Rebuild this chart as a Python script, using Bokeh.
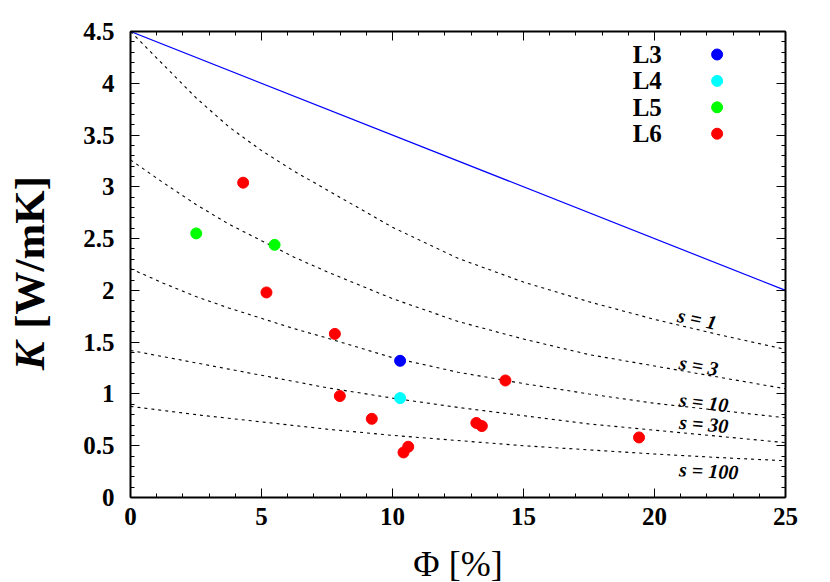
import math
from bokeh.plotting import figure
from bokeh.layouts import row, column
from bokeh.models import Range1d, LinearAxis, FixedTicker, CustomJSTickFormatter, Label
from bokeh.core.properties import value
from bokeh.embed import file_html
from bokeh.resources import INLINE

# ---------------- data ----------------
phi_grid = [0, 1.25, 2.5, 3.75, 5, 6.25, 7.5, 10, 12.5, 15, 17.5, 20, 22.5, 25]
k_s1 = [4.50, 4.18, 3.86, 3.58, 3.35, 3.15, 2.97, 2.61, 2.31, 2.08, 1.89, 1.72, 1.57, 1.43]
k_s3 = [3.26, 3.04, 2.83, 2.64, 2.48, 2.32, 2.18, 1.92, 1.70, 1.53, 1.38, 1.27, 1.16, 1.05]
k_s10 = [2.21, 2.07, 1.94, 1.83, 1.73, 1.63, 1.54, 1.35, 1.21, 1.10, 1.00, 0.91, 0.84, 0.77]
k_s30 = [1.42, 1.36, 1.30, 1.24, 1.18, 1.12, 1.06, 0.96, 0.87, 0.79, 0.71, 0.65, 0.59, 0.53]
k_s100 = [0.88, 0.84, 0.80, 0.765, 0.73, 0.695, 0.66, 0.60, 0.55, 0.50, 0.46, 0.42, 0.385, 0.355]
curve_labels = ["s = 1", "s = 3", "s = 10", "s = 30", "s = 100"]

bound_phi = [0, 25]
bound_k = [4.5, 2.0]

L3_phi = [10.29]
L3_k = [1.32]
L4_phi = [10.29]
L4_k = [0.96]
L5_phi = [2.51, 5.50]
L5_k = [2.55, 2.44]
L6_phi = [4.30, 5.19, 7.80, 7.99, 9.21, 10.42, 10.60, 13.20, 13.41, 14.31, 19.41]
L6_k = [3.04, 1.98, 1.58, 0.98, 0.76, 0.435, 0.49, 0.72, 0.69, 1.13, 0.58]

series_names = ["L3", "L4", "L5", "L6"]
series_colors = ["#0000ff", "#00ffff", "#00ff00", "#ff0000"]

x_ticks = [0, 5, 10, 15, 20, 25]
x_minor = list(range(0, 26))
y_ticks = [0, 0.5, 1, 1.5, 2, 2.5, 3, 3.5, 4, 4.5]
y_minor = [i / 10 for i in range(0, 46)]

# ---------------- layout ----------------
FONT = "Liberation Serif"
W, H = 826, 582
H1 = 540                      # height of the main row
WY = 64                       # width of the y-title strip
FL, FR, FT, FB = 130, 785, 31, 497   # frame edges in page px

p = figure(width=W - WY, height=H1, x_range=Range1d(0, 25), y_range=Range1d(0, 4.5),
           output_backend="svg", toolbar_location=None,
           min_border_left=FL - WY, min_border_right=W - FR,
           min_border_top=FT, min_border_bottom=H1 - FB,
           x_axis_location=None, y_axis_location=None)
p.grid.visible = False
p.outline_line_color = None
p.background_fill_color = "white"
p.border_fill_color = "white"

fmt = CustomJSTickFormatter(code="return String(Math.round(tick*10)/10);")
blank = CustomJSTickFormatter(code="return '';")


def make_axis(ticks, minor, labels):
    ax = LinearAxis(ticker=FixedTicker(ticks=ticks, minor_ticks=minor),
                    formatter=fmt if labels else blank)
    ax.axis_line_width = 2
    ax.axis_line_color = "black"
    ax.major_tick_in = 9
    ax.major_tick_out = 0
    ax.minor_tick_in = 4
    ax.minor_tick_out = 0
    ax.major_tick_line_width = 1
    ax.minor_tick_line_width = 1
    ax.major_label_text_font = FONT
    ax.major_label_text_font_style = "bold"
    ax.major_label_text_color = "black"
    if labels:
        ax.major_label_text_font_size = "25px"
    else:
        ax.major_label_text_font_size = "1px"
        ax.major_label_standoff = 0
    return ax


xb = make_axis(x_ticks, x_minor, True)
xb.major_label_standoff = 10
yl = make_axis(y_ticks, y_minor, True)
yl.major_label_standoff = 16
p.add_layout(xb, "below")
p.add_layout(yl, "left")
p.add_layout(make_axis(x_ticks, x_minor, False), "above")
p.add_layout(make_axis(y_ticks, y_minor, False), "right")

# model curves
curves = [k_s1, k_s3, k_s10, k_s30, k_s100]
for ks in curves:
    p.line(phi_grid, ks, line_color="black", line_width=1.1, line_dash="3 4")
p.line(bound_phi, bound_k, line_color="#0000ff", line_width=1.2)

# curve labels
lab_pos = [(21.63, 1.725, -12), (21.69, 1.274, -10), (21.88, 0.919, -7),
           (21.88, 0.71, -5), (22.07, 0.258, -3)]
for txt, (lx, ly, ang) in zip(curve_labels, lab_pos):
    p.add_layout(Label(x=lx, y=ly, text=txt, angle=math.radians(ang),
                       text_font=FONT, text_font_style="bold italic",
                       text_font_size="20px", text_align="center",
                       text_baseline="middle", text_color="black"))

# data points
all_x = [L3_phi, L4_phi, L5_phi, L6_phi]
all_y = [L3_k, L4_k, L5_k, L6_k]
for xs, ys, c in zip(all_x, all_y, series_colors):
    p.scatter(xs, ys, size=11, marker="circle", fill_color=c, line_color=c)

# legend (text then marker)
LEG_TX, LEG_MX, LEG_Y0, LEG_DY = 20.28, 22.39, 4.278, 0.255
for i, (nm, c) in enumerate(zip(series_names, series_colors)):
    yy = LEG_Y0 - i * LEG_DY
    p.add_layout(Label(x=LEG_TX, y=yy, text=nm, text_font=FONT,
                       text_font_style="bold", text_font_size="25px",
                       text_align="right", text_baseline="middle",
                       text_color="black"))
    p.scatter([LEG_MX], [yy], size=11, marker="circle", fill_color=c, line_color=c)

# ---------------- y title strip ----------------
yf = figure(width=WY, height=H1, x_range=Range1d(0, WY), y_range=Range1d(0, H1),
            output_backend="svg", toolbar_location=None, min_border=0,
            x_axis_location=None, y_axis_location=None)
yf.grid.visible = False
yf.outline_line_color = None
yf.border_fill_color = "white"
YL_FS = 43
YL_X = 29
SHIFT = 30                     # empirical offset of the rotated text
k_len = 0.667 * YL_FS
gap = 0.45 * YL_FS
rest_len = 3.555 * YL_FS
total_len = k_len + gap + rest_len
k_page_bottom = 262 + total_len / 2          # page y where K starts
k_y = H1 - (k_page_bottom + SHIFT)
yf.text(x=[YL_X], y=[k_y], text=["K"], angle=math.pi / 2,
        text_font=value(FONT), text_font_style="bold italic",
        text_font_size=f"{YL_FS}px", text_align="left",
        text_baseline="middle", text_color="black")
yf.text(x=[YL_X], y=[k_y + k_len + gap], text=["[W/mK]"],
        angle=math.pi / 2, text_font=value(FONT), text_font_style="bold",
        text_font_size=f"{YL_FS}px", text_align="left",
        text_baseline="middle", text_color="black")

# ---------------- x title strip ----------------
HX = H - H1
xf = figure(width=W, height=HX, x_range=Range1d(0, W), y_range=Range1d(0, HX),
            output_backend="svg", toolbar_location=None, min_border=0,
            x_axis_location=None, y_axis_location=None)
xf.grid.visible = False
xf.outline_line_color = None
xf.border_fill_color = "white"
xf.text(x=[(FL + FR) / 2], y=[HX - (563 - H1)], text=["Φ [%]"],
        text_font=value(FONT), text_font_style="normal", text_font_size="36px",
        text_align="center", text_baseline="middle", text_color="black")

layout = column(row(yf, p), xf)
open("out.html", "w").write(file_html(layout, INLINE))
